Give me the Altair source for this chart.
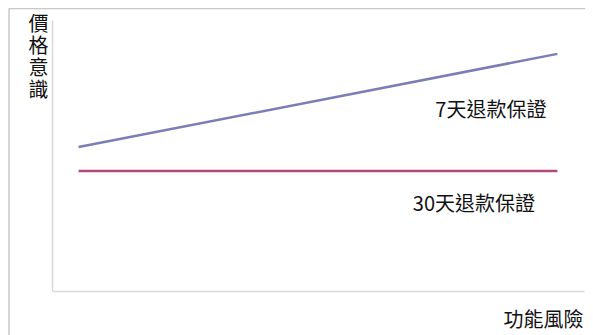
import altair as alt
import pandas as pd

# data
series = ["7天退款保證", "30天退款保證"]
x_start = [5, 5]
x_end = [95, 95]
y_start = [53.1, 44.3]
y_end = [87.5, 44.3]
colors = ["#7b7db6", "#b5497a"]

label_text = ["7天退款保證", "30天退款保證"]
label_x = [82.5, 79.3]
label_y = [66.4, 31.9]

x_title = "功能風險"
y_title = ["價", "格", "意", "識"]

rows = []
for s, xa, xb, ya, yb in zip(series, x_start, x_end, y_start, y_end):
    rows.append({"series": s, "x": xa, "y": ya})
    rows.append({"series": s, "x": xb, "y": yb})
lines_df = pd.DataFrame(rows)
labels_df = pd.DataFrame({"text": label_text, "x": label_x, "y": label_y})

FONT = "Noto Sans CJK TC"
W, H = 532, 271
FS = 20

xs = alt.Scale(domain=[0, 100], nice=False, zero=False)
ys = alt.Scale(domain=[0, 100], nice=False, zero=False)

axis_common = dict(domain=True, domainColor="#d9d9d9", domainWidth=1.5,
                   ticks=False, labels=False, grid=False,
                   titleFont=FONT, titleFontSize=FS, titleFontWeight="normal",
                   titleColor="#111111", titleAngle=0)

lines = alt.Chart(lines_df).mark_line(strokeWidth=2.5).encode(
    x=alt.X("x:Q", scale=xs,
            axis=alt.Axis(title=x_title, titleX=491, titleY=29,
                          titleAlign="center", titleBaseline="middle", **axis_common)),
    y=alt.Y("y:Q", scale=ys,
            axis=alt.Axis(title=y_title, titleX=-14, titleY=-6,
                          titleAlign="center", titleBaseline="top",
                          titleLineHeight=22, **axis_common)),
    color=alt.Color("series:N", scale=alt.Scale(domain=series, range=colors), legend=None),
    detail="series:N",
)

texts = alt.Chart(labels_df).mark_text(font=FONT, fontSize=FS, color="#111111",
                                        align="center", baseline="middle").encode(
    x=alt.X("x:Q", scale=xs),
    y=alt.Y("y:Q", scale=ys),
    text="text:N",
)

frame_top = alt.Chart(alt.Data(values=[{}])).mark_rule(color="#c8c8c8", strokeWidth=1.5).encode(
    x=alt.value(-43), x2=alt.value(533), y=alt.value(-11.5)
)
frame_left = alt.Chart(alt.Data(values=[{}])).mark_rule(color="#c8c8c8", strokeWidth=1.5).encode(
    x=alt.value(-43), y=alt.value(-11.5), y2=alt.value(315)
)

chart = alt.layer(frame_top, frame_left, lines, texts).properties(
    width=W, height=H,
    autosize=alt.AutoSizeParams(type="none"),
    padding={"left": 44, "top": 12, "right": 1, "bottom": 44},
    background="white",
).configure_view(stroke=None)

chart.save("out.html", embed_options={"renderer": "svg", "actions": False})
